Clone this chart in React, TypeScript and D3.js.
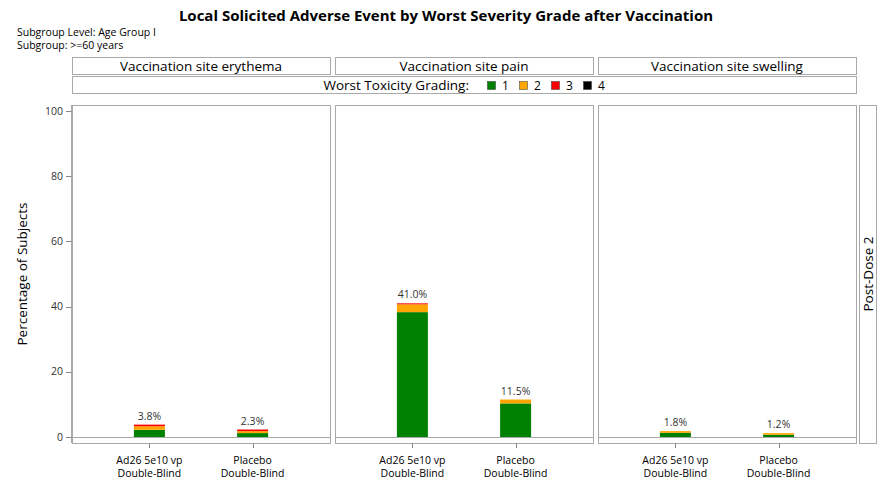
import React from "react";
import * as d3 from "d3";

const panels = ["Vaccination site erythema", "Vaccination site pain", "Vaccination site swelling"];
const groups = ["Ad26 5e10 vp|Double-Blind", "Placebo|Double-Blind"];
const grades = ["1", "2", "3", "4"];
const gradeColors = ["#008000", "#FFA500", "#FF0000", "#000000"];
// values[panel][group] per grade
const grade1 = [[2.2, 1.2], [38.3, 10.3], [1.3, 0.7]];
const grade2 = [[1.1, 0.6], [2.4, 1.2], [0.5, 0.5]];
const grade3 = [[0.5, 0.5], [0.3, 0.0], [0.0, 0.0]];
const grade4 = [[0, 0], [0, 0], [0, 0]];
const totalLabels = [["3.8%", "2.3%"], ["41.0%", "11.5%"], ["1.8%", "1.2%"]];
const yTicks = [0, 20, 40, 60, 80, 100];

const FONT = "'Open Sans', 'DejaVu Sans', sans-serif";

export default function App() {
  const W = 880, H = 484;
  const panelX = [72, 335, 598];
  const panelW = 258;
  const top = 105, bottom = 443;
  const y = d3.scaleLinear().domain([0, 100]).range([437, 111]);
  const x = d3.scalePoint().domain(groups).range([0, panelW]).padding(0.75);
  const barW = 31;
  const border = "#a9a9a9";
  const gradeArrays = [grade1, grade2, grade3, grade4];

  return (
    <svg width={W} height={H} style={{ position: "absolute", left: 0, top: 0, fontFamily: FONT }}>
      <rect width={W} height={H} fill="#fff" />
      <text x={446} y={21} textAnchor="middle" fontSize={15} fontWeight="bold" fill="#000">
        Local Solicited Adverse Event by Worst Severity Grade after Vaccination
      </text>
      <text x={17} y={35.5} fontSize={10.5} fill="#000">Subgroup Level: Age Group I</text>
      <text x={17} y={49} fontSize={10.5} fill="#000">Subgroup: &gt;=60 years</text>

      {/* strip headers */}
      {panels.map((p, i) => (
        <g key={p}>
          <rect x={panelX[i] + 0.5} y={57.5} width={panelW} height={17} fill="#fff" stroke={border} />
          <text x={panelX[i] + panelW / 2} y={70.5} textAnchor="middle" fontSize={13.5} fill="#000">{p}</text>
        </g>
      ))}
      <rect x={72.5} y={76.5} width={784} height={17} fill="#fff" stroke={border} />
      <text x={469} y={90} textAnchor="end" fontSize={13.5} fill="#000">Worst Toxicity Grading:</text>
      {grades.map((g, i) => (
        <g key={g}>
          <rect x={487.5 + i * 32} y={81.5} width={8} height={8} fill={gradeColors[i]} stroke="#333" strokeWidth={0.5} />
          <text x={502 + i * 32} y={90} fontSize={12} fill="#000">{g}</text>
        </g>
      ))}

      {/* y axis */}
      <line x1={71.5} x2={71.5} y1={top} y2={bottom} stroke={border} />
      {yTicks.map((t) => (
        <g key={t}>
          <line x1={66} x2={71.5} y1={Math.round(y(t)) + 0.5} y2={Math.round(y(t)) + 0.5} stroke="#888" />
          <text x={63} y={y(t) + 3.5} textAnchor="end" fontSize={10.5} fill="#333">{t}</text>
        </g>
      ))}
      <text transform={`translate(27,${(top + bottom) / 2}) rotate(-90)`} textAnchor="middle" fontSize={13.5} fill="#000">
        Percentage of Subjects
      </text>

      {panels.map((p, pi) => {
        const x0 = panelX[pi];
        return (
          <g key={p}>
            <rect x={x0 + 0.5} y={top + 0.5} width={panelW} height={bottom - top} fill="#fff" stroke={border} />
            {groups.map((g, gi) => {
              const cx = x0 + (x(g) as number);
              let cum = 0;
              const segs = gradeArrays.map((arr, k) => {
                const v = arr[pi][gi];
                const y1 = y(cum + v), y0 = y(cum);
                cum += v;
                return v > 0 ? (
                  <rect key={k} x={cx - barW / 2} y={y1} width={barW} height={y0 - y1} fill={gradeColors[k]} />
                ) : null;
              });
              const lines = g.split("|");
              return (
                <g key={g}>
                  {segs}
                  <text x={cx} y={y(cum) - 5} textAnchor="middle" fontSize={10.5} fill="#333">{totalLabels[pi][gi]}</text>
                  <line x1={Math.round(cx) + 0.5} x2={Math.round(cx) + 0.5} y1={bottom} y2={bottom + 5} stroke="#888" />
                  <text x={cx} y={464} textAnchor="middle" fontSize={10.5} fill="#000">{lines[0]}</text>
                  <text x={cx} y={477} textAnchor="middle" fontSize={10.5} fill="#000">{lines[1]}</text>
                </g>
              );
            })}
            <line x1={x0} x2={x0 + panelW + 1} y1={437.5} y2={437.5} stroke={border} />
          </g>
        );
      })}

      {/* right strip */}
      <rect x={859.5} y={top + 0.5} width={17} height={bottom - top} fill="#fff" stroke={border} />
      <text transform={`translate(872.5,${(top + bottom) / 2}) rotate(-90)`} textAnchor="middle" fontSize={13.5} fill="#000">
        Post-Dose 2
      </text>
    </svg>
  );
}
